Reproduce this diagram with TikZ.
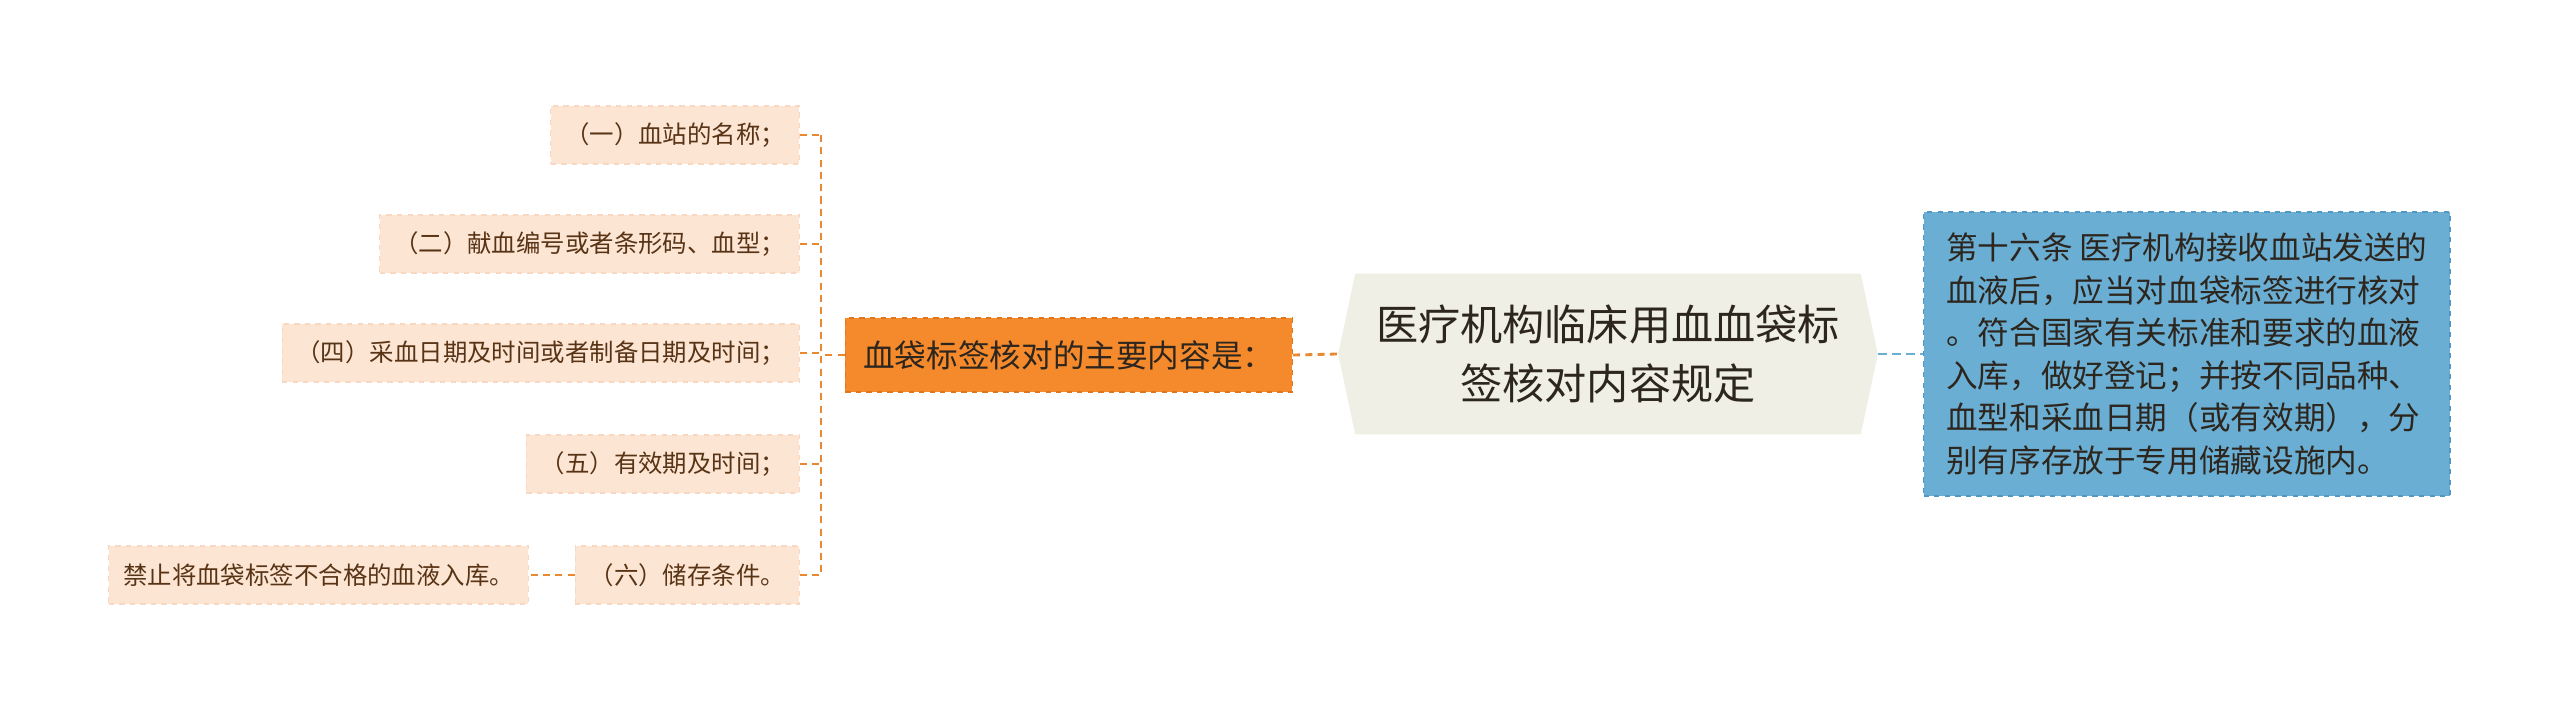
\documentclass[tikz,border=0pt]{standalone}
\usepackage{xcolor}
\usepackage{fontspec}
\usepackage{tikz}
\usetikzlibrary{positioning,backgrounds}
\newfontfamily\cjk{Noto Sans CJK SC}
\definecolor{peachfill}{RGB}{253,229,211}
\definecolor{peachedge}{RGB}{248,216,192}
\definecolor{orangefill}{RGB}{245,138,45}
\definecolor{orangeedge}{RGB}{222,118,32}
\definecolor{orangeline}{RGB}{232,137,50}
\definecolor{centerfill}{RGB}{239,239,230}
\definecolor{bluefill}{RGB}{106,174,211}
\definecolor{blueedge}{RGB}{82,152,196}
\definecolor{browntext}{RGB}{88,52,22}
\definecolor{darktext}{RGB}{45,38,30}

\tikzset{
  itembox/.style={fill=peachfill, draw=peachedge, dashed, line width=0.6pt,
    text=browntext, font=\cjk\fontsize{13.9}{16}\selectfont,
    inner xsep=0.29cm, minimum height=1.16cm},
  subbox/.style={fill=orangefill, draw=orangeedge, dashed, line width=0.7pt,
    text=darktext, font=\cjk\fontsize{18}{24}\selectfont,
    inner xsep=0.36cm, minimum height=1.48cm},
  notebox/.style={fill=bluefill, draw=blueedge, dashed, line width=0.7pt,
    text=darktext, font=\cjk\fontsize{18}{24.2}\selectfont, align=left,
    inner xsep=0.45cm, inner ysep=0.42cm},
  rootbox/.style={text=darktext, font=\cjk\fontsize{24}{33.6}\selectfont,
    align=center, minimum width=10.1cm, minimum height=3.2cm},
  orangelink/.style={draw=orangeline, line width=1.2pt, dash pattern=on 4pt off 3pt},
  bluelink/.style={draw=bluefill, line width=1.6pt, dash pattern=on 5pt off 3pt}
}

\begin{document}
\begin{tikzpicture}[x=0.02cm,y=-0.02cm]
    \useasboundingbox (0,0) rectangle (2560,710);

    % root in the middle
    \node[rootbox] (root) at (1608,354) {医疗机构临床用血血袋标\\签核对内容规定};
    \coordinate (rootleft) at ([xshift=-0.34cm]root.west);
    \coordinate (rootright) at ([xshift=0.34cm]root.east);
    \begin{scope}[on background layer]
        \fill[centerfill] (root.north west) -- (root.north east) -- (rootright)
            -- (root.south east) -- (root.south west) -- (rootleft) -- cycle;
    \end{scope}

    % right note
    \node[notebox, anchor=west] (note) at (1923,354) {第十六条 医疗机构接收血站发送的\\
        血液后，应当对血袋标签进行核对\\
        。符合国家有关标准和要求的血液\\
        入库，做好登记；并按不同品种、\\
        血型和采血日期（或有效期），分\\
        别有序存放于专用储藏设施内。};

    % left branch
    \node[subbox, anchor=east] (sub) at (1293,355) {血袋标签核对的主要内容是：};
    \coordinate (trunk) at (821,355);

    \node[itembox, anchor=east] (n1) at (800,135) {（一）血站的名称；};
    \node[itembox, anchor=east] (n2) at (800,244) {（二）献血编号或者条形码、血型；};
    \node[itembox, anchor=east] (n4) at (800,353) {（四）采血日期及时间或者制备日期及时间；};
    \node[itembox, anchor=east] (n5) at (800,464) {（五）有效期及时间；};
    \node[itembox, anchor=east] (n6) at (800,575) {（六）储存条件。};
    \node[itembox, anchor=east] (leaf) at (529,575) {禁止将血袋标签不合格的血液入库。};

    % connectors
    \draw[bluelink] (rootright) -- (note.west);
    \draw[orangelink, line width=1.6pt] (sub.east) -- (rootleft);
    \draw[orangelink] (sub.west) -- (trunk);
    \draw[orangelink] (trunk |- n1.east) -- (trunk |- n6.east);
    \foreach \n in {n1,n2,n4,n5,n6}
        \draw[orangelink] (\n.east) -- (trunk |- \n.east);
    \draw[orangelink] (n6.west) -- (leaf.east);
\end{tikzpicture}
\end{document}
